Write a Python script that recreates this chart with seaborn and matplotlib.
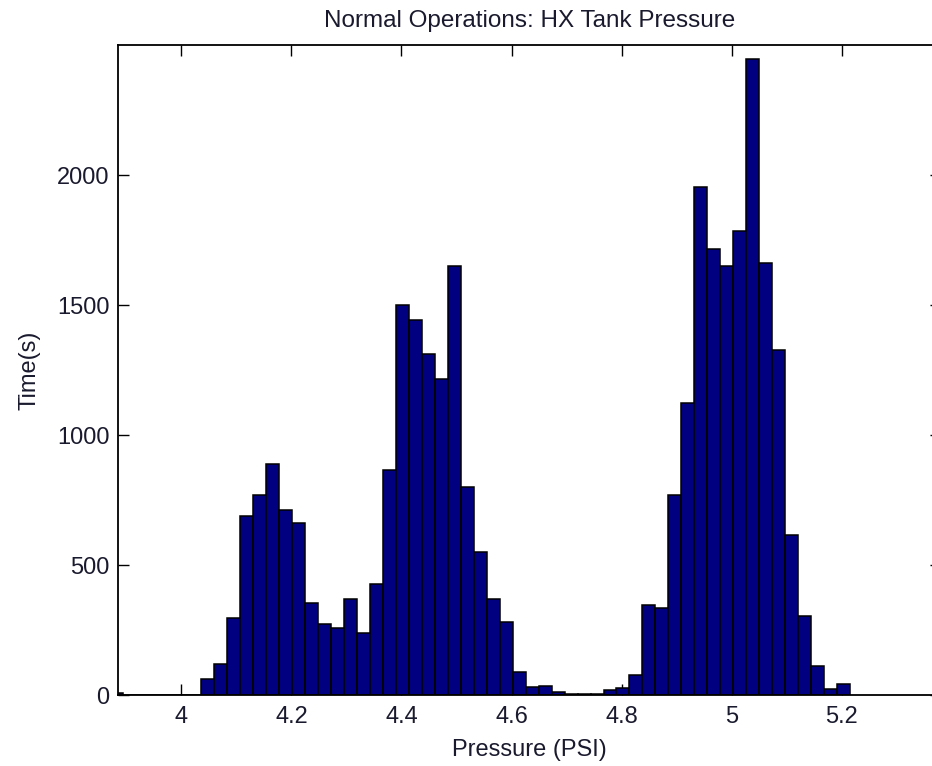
import numpy as np
import pandas as pd
import matplotlib
matplotlib.use("Agg")
import matplotlib.pyplot as plt
import seaborn as sns

# ---- data ----
bin_start = 3.8713      # left edge of the first histogram bin (PSI)
bin_width = 0.02357     # histogram bin width (PSI)
counts = [8, 0, 0, 0, 0, 0, 0,
          61, 119, 295, 688, 769, 887, 711, 660, 355, 274,
          259, 368, 240, 427, 865, 1500, 1442, 1312, 1215, 1650,
          801, 551, 369, 282, 90, 32, 35, 12, 4, 3,
          4, 19, 26, 78, 346, 333, 771, 1125, 1955, 1715,
          1650, 1785, 2445, 1662, 1326, 615, 303, 110, 25, 41]
x_ticks = [4.0, 4.2, 4.4, 4.6, 4.8, 5.0, 5.2]
x_tick_labels = ["4", "4.2", "4.4", "4.6", "4.8", "5", "5.2"]
y_ticks = [0, 500, 1000, 1500, 2000]
title = "Normal Operations: HX Tank Pressure"
xlabel = "Pressure (PSI)"
ylabel = "Time(s)"

n_bins = len(counts)
edges = [bin_start + bin_width * i for i in range(n_bins + 1)]
centers = [(edges[i] + edges[i + 1]) / 2 for i in range(n_bins)]
df = pd.DataFrame({"pressure": centers, "time": counts})

sns.set_theme(style="white")
plt.rcParams["font.family"] = ["Liberation Sans", "DejaVu Sans"]

W, H = 932, 766
fig = plt.figure(figsize=(W / 100, H / 100), dpi=100)
ax = fig.add_axes([118 / W, 1 - 695 / H, (941 - 118) / W, (695 - 45) / H])

sns.histplot(data=df, x="pressure", weights="time", bins=edges,
             color="#000080", edgecolor="black", linewidth=1.1,
             alpha=1.0, ax=ax)

ax.set_xlim(3.885, 4 + (941 - 181) / 550.7)
ax.set_ylim(0, 2500)
ax.set_xticks(x_ticks)
ax.set_xticklabels(x_tick_labels)
ax.set_yticks(y_ticks)

txt_color = "#1a1a2e"
ax.tick_params(axis="both", direction="in", length=8, width=1.0,
               color="black", labelsize=17, labelcolor=txt_color,
               top=True, right=True, bottom=True, left=True)
ax.tick_params(axis="x", pad=8)
ax.tick_params(axis="y", pad=6)

for s in ax.spines.values():
    s.set_visible(True)
    s.set_color("black")
    s.set_linewidth(1.3)

ax.set_title(title, fontsize=17.5, color=txt_color, pad=13)
ax.set_xlabel(xlabel, fontsize=17, color=txt_color, labelpad=8)
ax.set_ylabel(ylabel, fontsize=17, color=txt_color, labelpad=12)
ax.grid(False)

fig.savefig("out.png", dpi=100, facecolor="white")
